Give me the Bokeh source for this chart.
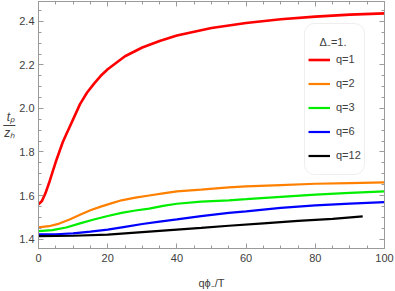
from bokeh.plotting import figure
from bokeh.models import (LinearAxis, SingleIntervalTicker, Range1d, Legend, LegendItem,
                          Label, BoxAnnotation, PrintfTickFormatter, CustomLabelingPolicy)
from bokeh.embed import file_html
from bokeh.resources import INLINE

# ---- data ----
x_q1 = [0, 1, 2, 3, 4, 5, 6, 7, 8, 9, 10, 12, 14, 16, 18, 20, 25, 30, 35, 40, 50, 60, 70, 80, 90, 100]
y_q1 = [1.56, 1.575, 1.61, 1.655, 1.705, 1.755, 1.80, 1.845, 1.88, 1.915, 1.95, 2.02, 2.072, 2.113,
        2.15, 2.18, 2.24, 2.28, 2.31, 2.335, 2.37, 2.393, 2.41, 2.422, 2.431, 2.437]

x_q2 = [0, 3, 6, 9, 12, 15, 18, 21, 24, 28, 32, 36, 40, 47, 55, 60, 70, 80, 90, 100]
y_q2 = [1.454, 1.459, 1.471, 1.49, 1.512, 1.532, 1.549, 1.564, 1.578, 1.59, 1.600, 1.61, 1.619,
        1.627, 1.637, 1.642, 1.648, 1.654, 1.657, 1.66]

x_q3 = [0, 4, 8, 12, 16, 20, 24, 28, 32, 36, 40, 47, 55, 60, 70, 80, 90, 100]
y_q3 = [1.436, 1.441, 1.453, 1.472, 1.49, 1.506, 1.52, 1.531, 1.54, 1.552, 1.562, 1.572, 1.578,
        1.583, 1.594, 1.604, 1.612, 1.619]

x_q6 = [0, 5, 10, 15, 20, 25, 30, 35, 40, 47, 55, 60, 70, 80, 90, 100]
y_q6 = [1.421, 1.422, 1.426, 1.434, 1.443, 1.456, 1.469, 1.48, 1.49, 1.505, 1.52, 1.527, 1.543,
        1.555, 1.563, 1.57]

x_q12 = [0, 10, 20, 30, 40, 47, 55, 65, 75, 85, 93.7]
y_q12 = [1.413, 1.415, 1.42, 1.432, 1.443, 1.451, 1.461, 1.472, 1.483, 1.493, 1.504]

series_labels = ["q=1", "q=2", "q=3", "q=6", "q=12"]
series_colors = ["#ff0000", "#ff8000", "#00ee00", "#0000ff", "#000000"]
legend_title = "\u0394\u208b=1."
x_title = "q\u03d5\u208b/T"
y_title = "t\u209a\n\u2014\nz\u2095"
x_ticks_major = 20
y_ticks_major = 0.2

FONT = "Liberation Sans"
TXT = "#404040"
AX = "#9a9a9a"

p = figure(width=395, height=291, output_backend="svg", toolbar_location=None,
           x_range=Range1d(0, 100), y_range=Range1d(1.3565, 2.4915),
           min_border_left=37, min_border_right=11, min_border_top=1, min_border_bottom=42)
p.xgrid.grid_line_color = None
p.ygrid.grid_line_color = None
p.outline_line_color = AX
p.background_fill_color = "white"
p.border_fill_color = "white"

xt = SingleIntervalTicker(interval=x_ticks_major, num_minor_ticks=4)
yt = SingleIntervalTicker(interval=y_ticks_major, num_minor_ticks=4)

hide_labels = CustomLabelingPolicy(code="const a = [...indices]; for (const i of a) indices.unset(i); return indices;")

def style_axis(ax, labels=True):
    ax.axis_line_color = AX
    ax.major_tick_line_color = AX
    ax.minor_tick_line_color = AX
    ax.major_tick_in = 5
    ax.major_tick_out = 0
    ax.minor_tick_in = 3
    ax.minor_tick_out = 0
    ax.major_label_text_font = FONT
    ax.major_label_text_color = TXT
    if labels:
        ax.major_label_text_font_size = "11px"
        ax.major_label_standoff = 4
    else:
        ax.major_label_text_font_size = "0px"
        ax.major_label_standoff = 0
        ax.major_label_policy = hide_labels

p.xaxis.ticker = xt
p.yaxis.ticker = yt
style_axis(p.xaxis[0])
style_axis(p.yaxis[0])
p.xaxis[0].major_label_standoff = 5
p.yaxis[0].formatter = PrintfTickFormatter(format="%.1f")
p.xaxis[0].axis_label = x_title
p.xaxis[0].axis_label_text_font = FONT
p.xaxis[0].axis_label_text_font_size = "11px"
p.xaxis[0].axis_label_text_font_style = "normal"
p.xaxis[0].axis_label_text_color = TXT
p.xaxis[0].axis_label_standoff = 12

p.yaxis[0].axis_label = y_title
p.yaxis[0].axis_label_orientation = "horizontal"
p.yaxis[0].axis_label_text_font = FONT
p.yaxis[0].axis_label_text_font_size = "12px"
p.yaxis[0].axis_label_text_font_style = "italic"
p.yaxis[0].axis_label_text_color = TXT
p.yaxis[0].axis_label_text_line_height = 0.6
p.yaxis[0].axis_label_standoff = 1

top_ax = LinearAxis(ticker=SingleIntervalTicker(interval=x_ticks_major, num_minor_ticks=4))
right_ax = LinearAxis(ticker=SingleIntervalTicker(interval=y_ticks_major, num_minor_ticks=4))
style_axis(top_ax, labels=False)
style_axis(right_ax, labels=False)
p.add_layout(top_ax, "above")
p.add_layout(right_ax, "right")

xs = [x_q1, x_q2, x_q3, x_q6, x_q12]
ys = [y_q1, y_q2, y_q3, y_q6, y_q12]
widths = [2.6, 2.2, 2.2, 2.2, 2.2]
renderers = []
for xv, yv, c, w in zip(xs, ys, series_colors, widths):
    renderers.append(p.line(xv, yv, line_color=c, line_width=w))

# legend frame (rounded box)
box = BoxAnnotation(left=266, right=326, bottom=74, top=225,
                    left_units="screen", right_units="screen",
                    bottom_units="screen", top_units="screen",
                    fill_color="white", fill_alpha=1.0,
                    line_color="#c8c8c8", line_width=1, border_radius=10)
p.add_layout(box)

legend = Legend(items=[LegendItem(label=l, renderers=[r]) for l, r in zip(series_labels, renderers)],
                location=(270, 85.5), border_line_color=None, background_fill_alpha=0,
                padding=0, spacing=9, glyph_width=22, glyph_height=15, label_height=15,
                label_standoff=6, label_text_font=FONT, label_text_font_size="11px",
                label_text_color=TXT, margin=0)
p.add_layout(legend)

p.add_layout(Label(x=294.5, y=207, x_units="screen", y_units="screen", text=legend_title,
                   text_align="center", text_baseline="middle", text_font=FONT,
                   text_font_size="11px", text_color=TXT))

open("out.html", "w").write(file_html(p, INLINE))
